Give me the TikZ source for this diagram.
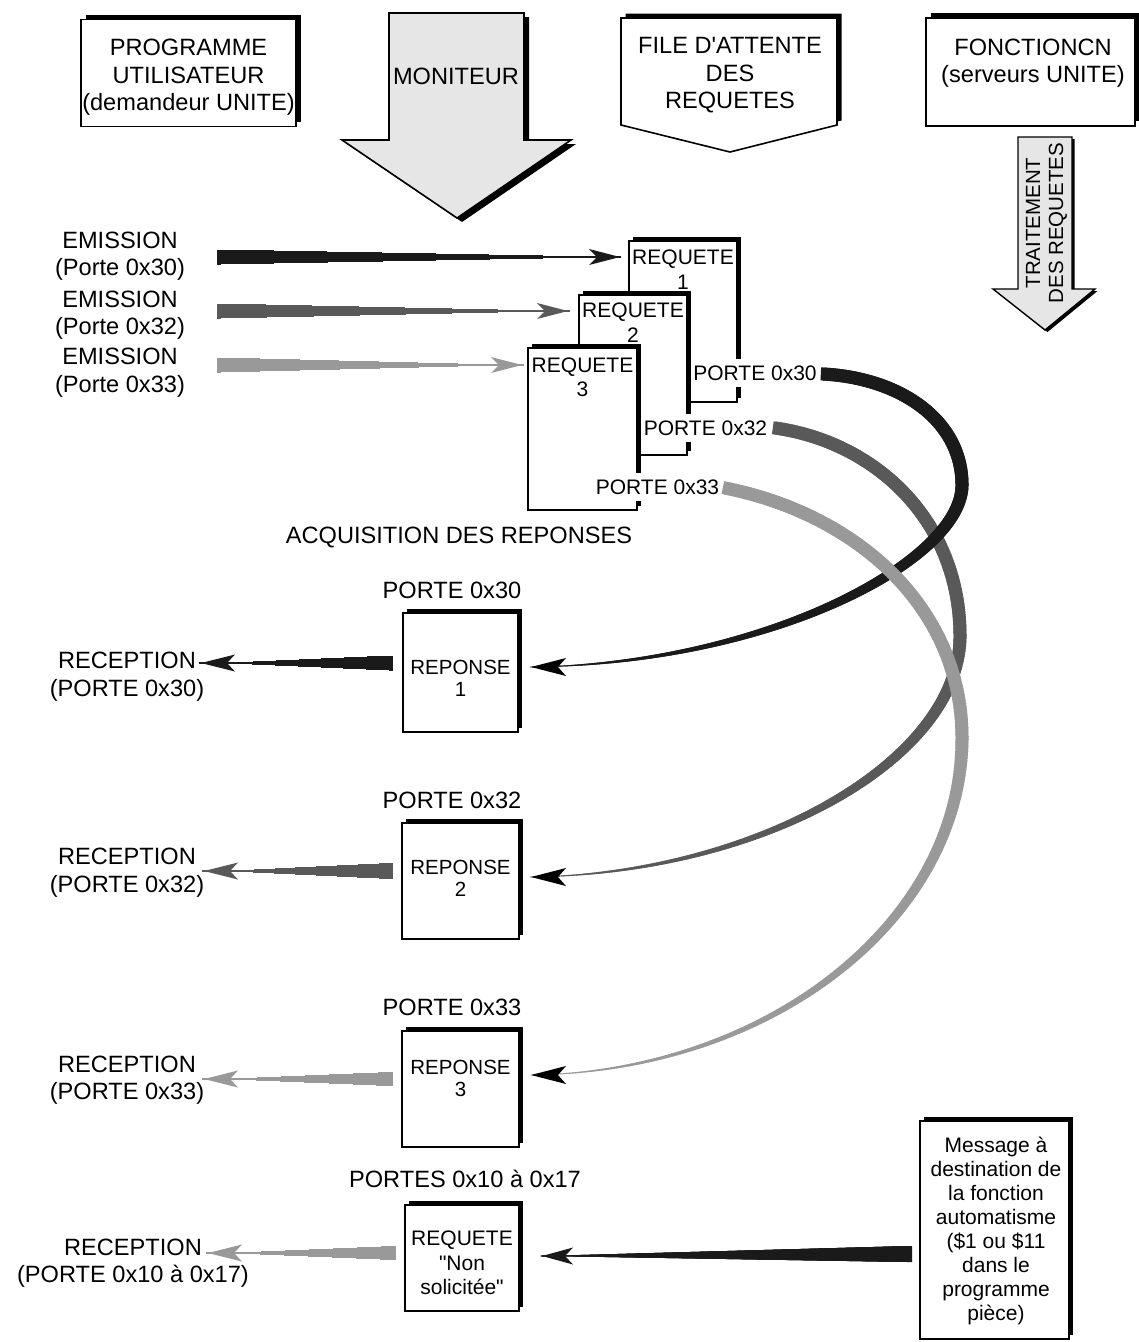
\documentclass[tikz,border=0pt]{standalone}
\usepackage{fontspec}
\setmainfont{Liberation Sans}[Ligatures=TeXOff]
\usetikzlibrary{decorations.markings,shadows}
\definecolor{cA}{HTML}{1A1A1A}
\definecolor{cB}{HTML}{595959}
\definecolor{cC}{HTML}{999999}
\definecolor{cF}{HTML}{E6E6E6}
\newcommand\fbig{\fontsize{23.6pt}{27.5pt}\selectfont}
\newcommand\fsml{\fontsize{21pt}{24.5pt}\selectfont}
\newcommand\fsmt{\fontsize{20.5pt}{22pt}\selectfont}
% arrowheads: #1 tip coordinate, #2 length, #3 width, #4 inset, #5 colour
\newcommand\aheadL[5]{\fill[#5] (#1) -- ++(#2,{-#3/2}) -- ++(-#4,{#3/2}) -- ++(#4,{#3/2}) -- cycle;}
\newcommand\aheadR[5]{\fill[#5] (#1) -- ++(-#2,{-#3/2}) -- ++(#4,{#3/2}) -- ++(-#4,{#3/2}) -- cycle;}
\tikzset{
  twA/.store in=\twA, twB/.store in=\twB, thold/.store in=\thold,
  thead/.store in=\thead, tcol/.store in=\tcol,
  twA=14, twB=0.8, thold=0, thead=30, tcol=black,
  tapered/.style={
    postaction={decorate, decoration={markings,
      mark=between positions 0 and 0.999 step 0.003 with {%
        \pgfmathsetmacro\tL{\pgfdecoratedpathlength}%
        \pgfmathsetmacro\tD{\pgfkeysvalueof{/pgf/decoration/mark info/distance from start}}%
        \pgfmathsetmacro\tE{\tL-\thead}%
        \pgfmathsetmacro\tS{\thold*\tE}%
        \pgfmathsetmacro\tW{(\tD<\tS) ? \twA : ((\tD>\tE) ? \twB : (\twA+(\twB-\twA)*(\tD-\tS)/(\tE-\tS)))}%
        \pgfmathsetlengthmacro\tH{0.5*\tW}%
        \fill[fill=\tcol] (-2.2pt,-\tH) rectangle (2.2pt,\tH);%
      }
    }}
  },
  sbox/.style={draw, line width=1.6pt, fill=white, inner sep=0pt,
    drop shadow={shadow xshift=5pt, shadow yshift=5pt, opacity=1, fill=black}},
  rbox/.style={draw, line width=1.6pt, fill=white, inner sep=0pt,
    drop shadow={shadow xshift=4pt, shadow yshift=4pt, opacity=1, fill=black}},
  txt/.style={align=center, inner sep=0pt, font=\fbig},
  stxt/.style={align=center, inner sep=0pt, font=\fsml},
  rtxt/.style={align=center, inner sep=0pt, font=\fsmt},
  lab/.style={fill=white, inner xsep=2pt, inner ysep=7pt, font=\fsml}
}
\begin{document}
\begin{tikzpicture}[x=1pt,y=-1pt]
\useasboundingbox (0,0) rectangle (1139,1342);

% ---- header row
\node[sbox, minimum width=215pt, minimum height=107pt] (prog) at (188.5,73) {};
\node[txt] (progt) at (188.5,77.5) {PROGRAMME\\UTILISATEUR\\(demandeur UNITE)};

\fill[black, shift={(5,4)}] (389,13) -- (524,13) -- (524,140) -- (571,140) -- (457,218) -- (342,140) -- (389,140) -- cycle;
\draw[line width=1.6pt, fill=cF] (389,13) -- (524,13) -- (524,140) -- (571,140) -- (457,218) -- (342,140) -- (389,140) -- cycle;
\node[txt] (monit) at (456,76) {MONITEUR};

\fill[black, shift={(4.5,-4.5)}] (621,18) -- (837,18) -- (837,125) -- (730,152) -- (621,125) -- cycle;
\draw[line width=1.6pt, fill=white] (621,18) -- (837,18) -- (837,125) -- (730,152) -- (621,125) -- cycle;
\node[txt] (filet) at (730,75.5) {FILE D'ATTENTE\\DES\\REQUETES};

\node[sbox, minimum width=209pt, minimum height=108pt] (fonct) at (1030.5,72) {};
\node[txt] (fonctt) at (1033,63) {FONCTIONCN\\(serveurs UNITE)};

\fill[black, shift={(2.5,2)}] (1018,137) -- (1072,137) -- (1072,289) -- (1095,289) -- (1045,330) -- (993,289) -- (1018,289) -- cycle;
\draw[line width=1.4pt, fill=cF] (1018,137) -- (1072,137) -- (1072,289) -- (1095,289) -- (1045,330) -- (993,289) -- (1018,289) -- cycle;
\node[align=center, inner sep=0pt, font=\fontsize{20.5pt}{23pt}\selectfont, rotate=90] (trait) at (1046.5,223) {TRAITEMENT\\DES REQUETES};

% ---- emission labels
\node[txt] (em1) at (120,256) {EMISSION\\(Porte 0x30)};
\node[txt] (em2) at (120,315) {EMISSION\\(Porte 0x32)};
\node[txt] (em3) at (120,372.5) {EMISSION\\(Porte 0x33)};

% ---- request stack
\node[rbox, minimum width=108pt, minimum height=161pt] (R1) at (683,321.5) {};
\node[stxt] (R1t) at (683,269.5) {REQUETE\\1};
\node[lab] (P1) at (755,373) {PORTE 0x30};
\node[rbox, minimum width=108pt, minimum height=160pt] (R2) at (633,375) {};
\node[stxt] (R2t) at (633,322.5) {REQUETE\\2};
\node[lab] (P2) at (705.5,428) {PORTE 0x32};
\node[rbox, minimum width=109pt, minimum height=162pt] (R3) at (582.5,429) {};
\node[stxt] (R3t) at (582.5,377.5) {REQUETE\\3};
\node[lab] (P3) at (657.5,487) {PORTE 0x33};

% ---- emission arrows
\coordinate (e1s) at (219,257); \coordinate (e1t) at (620,257);
\coordinate (e2s) at (219,311); \coordinate (e2t) at (568,311);
\coordinate (e3s) at (219,365); \coordinate (e3t) at (522,365);
\path[tapered, thead=30, twA=15, twB=1.2, tcol=cA] (e1s) -- (e1t);
\path[tapered, thead=30, twA=15, twB=1.2, tcol=cB] (e2s) -- (e2t);
\path[tapered, thead=30, twA=15, twB=1.2, tcol=cC] (e3s) -- (e3t);
\aheadR{e1t}{31}{16}{8}{cA}
\aheadR{e2t}{31}{16}{8}{cB}
\aheadR{e3t}{31}{16}{8}{cC}

\node[txt] (acq) at (459,537) {ACQUISITION DES REPONSES};

% ---- responses
\node[txt] (PR1) at (452,590) {PORTE 0x30};
\node[rbox, minimum width=115pt, minimum height=119pt] (RP1) at (460.5,672.5) {};
\node[rtxt] (RP1t) at (460.5,678) {REPONSE\\1};

\node[txt] (PR2) at (452,800) {PORTE 0x32};
\node[rbox, minimum width=117pt, minimum height=116pt] (RP2) at (460.5,881) {};
\node[rtxt] (RP2t) at (460.5,878) {REPONSE\\2};

\node[txt] (PR3) at (452,1007) {PORTE 0x33};
\node[rbox, minimum width=117pt, minimum height=116pt] (RP3) at (460.5,1089) {};
\node[rtxt] (RP3t) at (460.5,1078) {REPONSE\\3};

\node[txt] (PR4) at (465,1179) {PORTES 0x10 à 0x17};
\node[rbox, minimum width=114pt, minimum height=106pt] (NS) at (462,1258) {};
\node[stxt] (NSt) at (462,1263) {REQUETE\\"Non\\solicitée"};

% ---- reception labels
\node[txt] (rc1) at (127,676.5) {RECEPTION\\(PORTE 0x30)};
\node[txt] (rc2) at (127,872.5) {RECEPTION\\(PORTE 0x32)};
\node[txt] (rc3) at (127,1080) {RECEPTION\\(PORTE 0x33)};
\node[txt] (rc4) at (133,1263) {RECEPTION\\(PORTE 0x10 à 0x17)};

% ---- reception arrows
\coordinate (r1s) at (391,663);  \coordinate (r1t) at (201,663);
\coordinate (r2s) at (391,871);  \coordinate (r2t) at (204,871);
\coordinate (r3s) at (391,1079); \coordinate (r3t) at (204,1079);
\coordinate (r4s) at (394,1253); \coordinate (r4t) at (208,1253);
\path[tapered, thead=33, twA=15, twB=1.2, tcol=cA] (r1s) -- (r1t);
\path[tapered, thead=33, twA=16, twB=1.2, tcol=cB] (r2s) -- (r2t);
\path[tapered, thead=33, twA=14, twB=1.2, tcol=cC] (r3s) -- (r3t);
\path[tapered, thead=33, twA=14, twB=1.2, tcol=cC] (r4s) -- (r4t);
\aheadL{r1t}{34}{17}{8}{cA}
\aheadL{r2t}{34}{17}{8}{cB}
\aheadL{r3t}{34}{17}{8}{cC}
\aheadL{r4t}{34}{17}{8}{cC}

% ---- message box
\node[rbox, minimum width=149pt, minimum height=218pt] (msg) at (994.5,1230) {};
\node[stxt, font=\fontsize{21pt}{24pt}\selectfont] (msgt) at (996,1231) {Message à\\destination de\\la fonction\\automatisme\\(\$1 ou \$11\\dans le\\programme\\pièce)};
\coordinate (ms) at (910,1254); \coordinate (mt) at (542,1256);
\path[tapered, thead=30, twA=16, twB=1.2, tcol=cA] (ms) -- (mt);
\aheadL{mt}{31}{17}{8}{cA}

% ---- return curves
\coordinate (c1s) at (823,374); \coordinate (c1m) at (962,485); \coordinate (c1e) at (531,667);
\coordinate (c2s) at (775,428); \coordinate (c2m) at (960,636); \coordinate (c2e) at (531,877);
\coordinate (c3s) at (725,488); \coordinate (c3m) at (962,738); \coordinate (c3e) at (531,1075);
\path[tapered, thead=35, twA=13, twB=0.9, thold=0.38, tcol=cB]
  (c2s) .. controls (875,442) and (960,520) .. (c2m) .. controls (960,760) and (760,874) .. (c2e);
\path[tapered, thead=35, twA=13, twB=0.9, thold=0.3, tcol=cA]
  (c1s) .. controls (900,378) and (962,420) .. (c1m) .. controls (962,560) and (770,664) .. (c1e);
\path[tapered, thead=35, twA=13, twB=0.9, thold=0.4, tcol=cC]
  (c3s) .. controls (860,515) and (962,610) .. (c3m) .. controls (962,920) and (770,1072) .. (c3e);
\aheadL{c1e}{35}{18}{8}{black}
\aheadL{c2e}{35}{18}{8}{black}
\aheadL{c3e}{35}{18}{8}{black}
\end{tikzpicture}
\end{document}
